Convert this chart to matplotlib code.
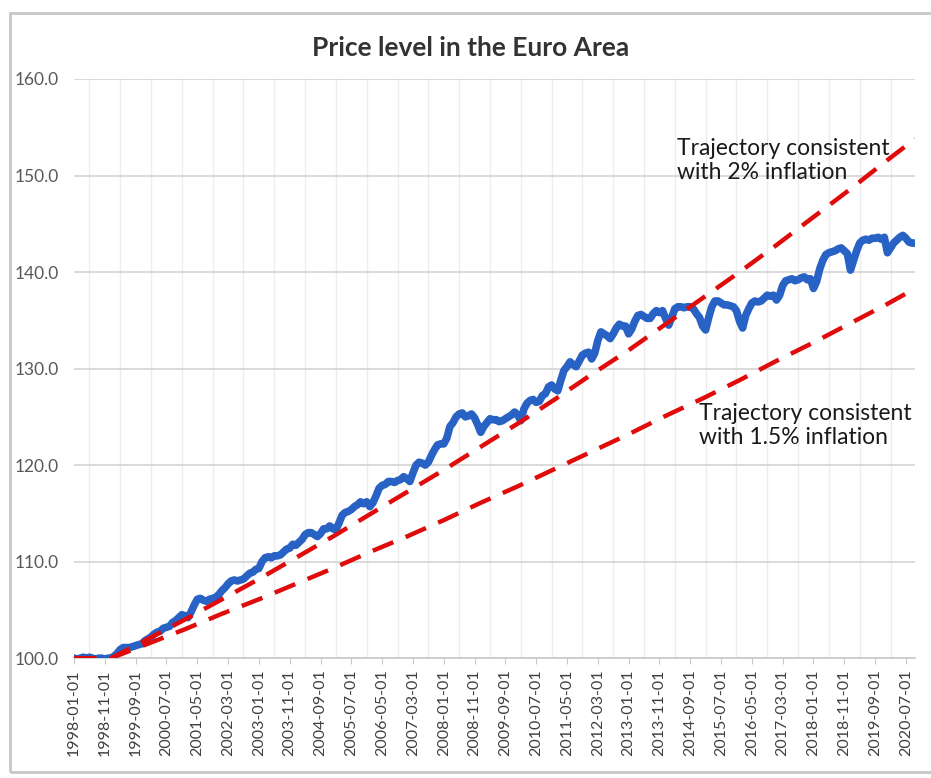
import matplotlib.pyplot as plt
import numpy as np
import pandas as pd

# monthly price index, 1998-01 ... 2020-10
hicp = [
    100.0, 99.9, 100.0, 100.1, 100.0, 100.1, 100.0, 99.9, 100.0, 100.0, 99.9, 100.0,   # 1998
    100.0, 100.2, 100.5, 100.9, 101.1, 101.1, 101.1, 101.2, 101.3, 101.4, 101.5, 101.8,  # 1999
    102.0, 102.2, 102.5, 102.7, 102.8, 103.1, 103.2, 103.3, 103.7, 103.9, 104.2, 104.5,  # 2000
    104.4, 104.2, 104.8, 105.5, 106.1, 106.2, 106.0, 105.9, 106.1, 106.2, 106.3, 106.6,  # 2001
    107.0, 107.3, 107.7, 108.0, 108.1, 108.0, 108.1, 108.2, 108.5, 108.8, 108.9, 109.2,  # 2002
    109.3, 110.0, 110.4, 110.5, 110.4, 110.6, 110.6, 110.7, 111.0, 111.3, 111.4, 111.8,  # 2003
    111.7, 112.0, 112.3, 112.8, 113.0, 113.0, 112.8, 112.6, 112.9, 113.4, 113.4, 113.7,  # 2004
    113.4, 113.3, 114.0, 114.8, 115.1, 115.2, 115.4, 115.7, 115.9, 116.2, 116.0, 116.2,  # 2005
    115.7, 116.1, 116.8, 117.6, 117.9, 118.0, 118.3, 118.3, 118.2, 118.4, 118.5, 118.8,  # 2006
    118.6, 118.3, 119.2, 120.0, 120.3, 120.2, 120.0, 120.3, 121.0, 121.6, 122.1, 122.2,  # 2007
    122.2, 122.8, 124.0, 124.4, 125.0, 125.3, 125.4, 125.0, 125.1, 125.3, 124.9, 124.2,  # 2008
    123.4, 124.0, 124.4, 124.8, 124.7, 124.7, 124.5, 124.6, 124.8, 125.0, 125.2, 125.5,  # 2009
    125.2, 124.6, 125.8, 126.4, 126.7, 126.8, 126.5, 126.6, 127.2, 127.4, 128.1, 128.3,  # 2010
    127.9, 127.7, 128.8, 129.8, 130.2, 130.7, 130.4, 130.2, 130.8, 131.4, 131.6, 131.7,  # 2011
    131.0, 131.6, 132.9, 133.8, 133.6, 133.4, 133.1, 133.6, 134.2, 134.6, 134.4, 134.4,  # 2012
    133.6, 134.1, 134.9, 135.5, 135.6, 135.4, 135.2, 135.2, 135.7, 136.0, 135.8, 136.0,  # 2013
    135.2, 134.5, 135.3, 136.2, 136.4, 136.4, 136.3, 136.4, 136.4, 136.2, 135.7, 135.3,  # 2014
    134.4, 134.0, 135.3, 136.4, 137.0, 137.0, 136.8, 136.6, 136.6, 136.5, 136.4, 136.0,  # 2015
    134.9, 134.2, 135.5, 136.2, 136.8, 137.0, 136.9, 137.0, 137.3, 137.6, 137.5, 137.6,  # 2016
    137.1, 137.6, 138.6, 139.1, 139.2, 139.3, 139.1, 139.2, 139.4, 139.5, 139.2, 139.3,  # 2017
    138.3, 139.0, 140.3, 141.2, 141.8, 142.0, 142.1, 142.2, 142.4, 142.5, 142.2, 141.9,  # 2018
    140.2, 141.2, 142.2, 143.0, 143.3, 143.4, 143.3, 143.5, 143.5, 143.6, 143.4, 143.6,  # 2019
    142.0, 142.5, 143.0, 143.3, 143.6, 143.8, 143.5, 143.1, 143.0, 143.0,                # 2020
]

# trajectories, read at the start of each year
traj_dates = ["1998-01-01"] + [f"{y}-01-01" for y in range(1999, 2021)] + ["2020-10-01"]
traj_2 = [100.0, 100.0, 102.0, 104.0, 106.1, 108.2, 110.4, 112.6, 114.9, 117.2, 119.5,
          121.9, 124.3, 126.8, 129.4, 131.9, 134.6, 137.3, 140.0, 142.8, 145.7, 148.6,
          151.6, 153.8]
traj_15 = [100.0, 100.0, 101.5, 103.0, 104.6, 106.1, 107.7, 109.3, 111.0, 112.6, 114.3,
           116.1, 117.8, 119.6, 121.4, 123.2, 125.1, 126.9, 128.8, 130.8, 132.7, 134.7,
           136.7, 138.3]

dates = pd.date_range("1998-01-01", periods=len(hicp), freq="MS")
x = np.arange(len(dates))
tx = dates.get_indexer(pd.to_datetime(traj_dates))

plt.rcParams['font.family'] = ['Lato', 'DejaVu Sans']

fig = plt.figure(figsize=(9.31, 7.78), dpi=100)
ax = fig.add_axes([0.0795, 0.154, 0.9035, 0.7445])

# chart border like the original
fig.patches.append(plt.Rectangle((0.011, 0.008), 1.2, 0.975, transform=fig.transFigure,
                                 fill=False, edgecolor='#c8c8c8', linewidth=2))

ax.plot(x, hicp, color='#2862c4', linewidth=5.5, solid_joinstyle='round', zorder=3)
ax.plot(tx, traj_2, color='#e00b0b', linewidth=3.2, dashes=(5, 3), zorder=4)
ax.plot(tx, traj_15, color='#e00b0b', linewidth=3.2, dashes=(5, 3), zorder=4)

ax.set_xlim(0, len(x) - 1)
ax.set_ylim(100, 160)
ax.set_yticks(np.arange(100, 161, 10))
ax.set_yticklabels([f"{v:.1f}" for v in range(100, 161, 10)])

ax.set_xticks(x[::10])
ax.set_xticklabels([d.strftime("%Y-%m-%d") for d in dates[::10]], rotation=90)
ax.set_xticks(x[::5], minor=True)

ax.grid(axis='x', which='minor', color='#ececec', linewidth=1)
ax.grid(axis='y', which='major', color='#d4d4d4', linewidth=1.2)
ax.set_axisbelow(True)

for side in ['top', 'right', 'left']:
    ax.spines[side].set_visible(False)
ax.spines['bottom'].set_color('#c8c8c8')
ax.spines['bottom'].set_linewidth(1.2)

ax.tick_params(axis='y', length=0, pad=11, labelsize=12.5, labelcolor='#595959')
ax.tick_params(axis='x', which='major', length=4, color='#c8c8c8', pad=4,
               labelsize=11.5, labelcolor='#404040')
ax.tick_params(axis='x', which='minor', length=0)

fig.text(0.505, 0.938, "Price level in the Euro Area", ha='center', va='center',
         fontsize=19, fontweight='bold', color='#333333')

ax.text(0.717, 0.859, "Trajectory consistent\nwith 2% inflation", transform=ax.transAxes,
        fontsize=16.5, color='#1a1a1a', linespacing=1.2, va='center')
ax.text(0.743, 0.402, "Trajectory consistent\nwith 1.5% inflation", transform=ax.transAxes,
        fontsize=16.5, color='#1a1a1a', linespacing=1.2, va='center')

fig.savefig("out.png", dpi=100, facecolor='white')
